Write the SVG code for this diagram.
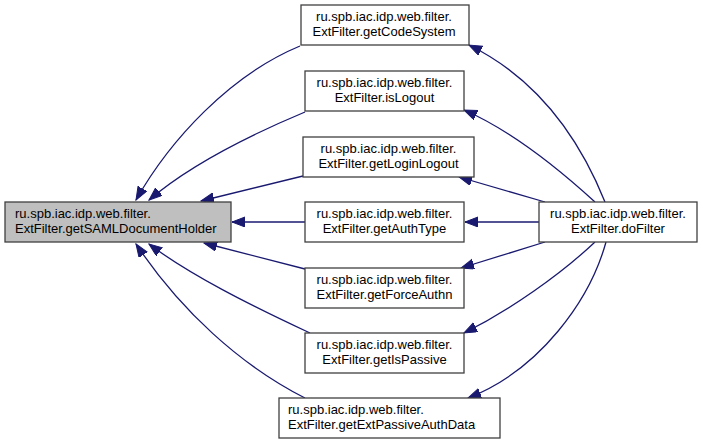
<svg xmlns="http://www.w3.org/2000/svg" width="703" height="444" viewBox="0 0 703 444">
<style>
.n rect{fill:#ffffff;stroke:#404040;stroke-width:1.3}
.n.main rect{fill:#bfbfbf}
.n text{font-family:"Liberation Sans",Arial,sans-serif;font-size:13px;fill:#000000;text-anchor:middle}
.n.left text{text-anchor:start}
#edges path{fill:none;stroke:#191970;stroke-width:1.3;marker-end:url(#ah)}
</style>
<defs>
<marker id="ah" markerUnits="userSpaceOnUse" markerWidth="14" markerHeight="11" refX="13" refY="5" orient="auto">
<path d="M0,0 L13,5 L0,10 z" fill="#191970" stroke="#191970" stroke-width="1"/>
</marker>
</defs>
<rect width="703" height="444" fill="#ffffff"/>
<g id="edges">
<path d="M300,46 C230,75 170,140 136,200"/>
<path d="M305,112 C250,135 190,165 149,200"/>
<path d="M303,176 L201,201"/>
<path d="M305,222 L232,222"/>
<path d="M305,269 L204,243"/>
<path d="M310,333 C250,305 190,275 149,244"/>
<path d="M305,398 C240,365 180,310 136,244"/>
<path d="M605,202 C580,140 540,80 469,45"/>
<path d="M595,202 C560,170 510,130 464,110"/>
<path d="M545,202 L459,177"/>
<path d="M539,222 L465,222"/>
<path d="M545,242 L461,268"/>
<path d="M595,242 C560,275 510,310 464,333"/>
<path d="M606,242 C590,300 540,370 468,398"/>
</g>
<g id="main" class="n main left">
<rect x="5" y="202" width="226" height="40"/>
<text x="15" y="218">ru.spb.iac.idp.web.filter.</text>
<text x="15" y="233">ExtFilter.getSAMLDocumentHolder</text>
</g>
<g id="getCodeSystem" class="n">
<rect x="301" y="5" width="168" height="40"/>
<text x="384" y="21">ru.spb.iac.idp.web.filter.</text>
<text x="384" y="36">ExtFilter.getCodeSystem</text>
</g>
<g id="isLogout" class="n">
<rect x="305" y="71" width="159" height="40"/>
<text x="384.5" y="87">ru.spb.iac.idp.web.filter.</text>
<text x="384.5" y="102">ExtFilter.isLogout</text>
</g>
<g id="getLoginLogout" class="n">
<rect x="303" y="137" width="171" height="40"/>
<text x="388.5" y="153">ru.spb.iac.idp.web.filter.</text>
<text x="388.5" y="168">ExtFilter.getLoginLogout</text>
</g>
<g id="getAuthType" class="n">
<rect x="305" y="202" width="159" height="40"/>
<text x="384.5" y="218">ru.spb.iac.idp.web.filter.</text>
<text x="384.5" y="233">ExtFilter.getAuthType</text>
</g>
<g id="getForceAuthn" class="n">
<rect x="305" y="268" width="159" height="40"/>
<text x="384.5" y="284">ru.spb.iac.idp.web.filter.</text>
<text x="384.5" y="299">ExtFilter.getForceAuthn</text>
</g>
<g id="getIsPassive" class="n">
<rect x="305" y="333" width="159" height="40"/>
<text x="384.5" y="349">ru.spb.iac.idp.web.filter.</text>
<text x="384.5" y="364">ExtFilter.getIsPassive</text>
</g>
<g id="getExtPassiveAuthData" class="n left">
<rect x="279" y="398" width="221" height="40"/>
<text x="288" y="414">ru.spb.iac.idp.web.filter.</text>
<text x="288" y="429">ExtFilter.getExtPassiveAuthData</text>
</g>
<g id="doFilter" class="n">
<rect x="539" y="202" width="158" height="40"/>
<text x="618" y="218">ru.spb.iac.idp.web.filter.</text>
<text x="618" y="233">ExtFilter.doFilter</text>
</g>
</svg>
